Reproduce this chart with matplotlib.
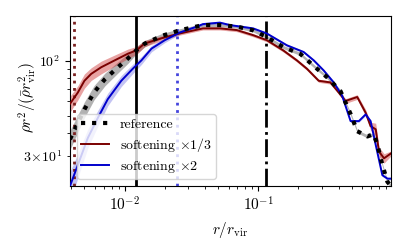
import matplotlib
matplotlib.use("Agg")
import matplotlib.pyplot as plt
import numpy as np
from matplotlib.ticker import FuncFormatter, LogLocator

# =========================================================
# Data
# =========================================================
REF_R = [0.0039, 0.0050, 0.0059, 0.0071, 0.0089, 0.0106, 0.0119, 0.0141, 0.0190, 0.0259,
         0.0386, 0.0517, 0.0691, 0.0916, 0.116, 0.154, 0.207, 0.259, 0.329, 0.414,
         0.492, 0.552, 0.657, 0.732, 0.780, 0.851, 0.929, 0.99]
REF_V = [37, 54, 67, 79, 92, 103, 112, 124, 137, 147,
         157, 157, 154, 147, 135, 119, 109, 94, 81, 68,
         51, 41, 38.4, 39.5, 34.7, 26.8, 21.6, 20.5]
REF_ERR = [0.12, 0.10, 0.09, 0.08, 0.07, 0.06, 0.05, 0.04, 0.03, 0.02,
           0.02, 0.02, 0.02, 0.02, 0.02, 0.02, 0.02, 0.02, 0.02, 0.02,
           0.02, 0.02, 0.02, 0.02, 0.02, 0.02, 0.02, 0.02]

THIRD_R = [0.0039, 0.00446, 0.0050, 0.00562, 0.00668, 0.00841, 0.0106, 0.01225, 0.0141, 0.0190,
           0.0259, 0.0386, 0.0517, 0.0691, 0.0916, 0.116, 0.154, 0.195, 0.232, 0.284,
           0.347, 0.391, 0.451, 0.552, 0.638, 0.695, 0.759, 0.803, 0.876, 0.99]
THIRD_V = [58, 66.8, 77.6, 84.7, 92.1, 100.4, 109.4, 114, 124.3, 133,
           141.2, 150.6, 150.6, 147.4, 138.2, 129.7, 114, 100.4, 90.3, 77.6,
           76, 68.4, 60.1, 63.2, 51.8, 43.7, 42.0, 31.7, 29.1, 31]
THIRD_ERR = [0.10, 0.09, 0.09, 0.08, 0.08, 0.07, 0.06, 0.05, 0.04, 0.03,
             0.02, 0.02, 0.02, 0.02, 0.02, 0.02, 0.02, 0.02, 0.02, 0.02,
             0.02, 0.02, 0.03, 0.03, 0.04, 0.05, 0.08, 0.06, 0.06, 0.03]

TWO_R = [0.0039, 0.00446, 0.0053, 0.0063, 0.00748, 0.00944, 0.01155, 0.01335, 0.0159, 0.0200,
         0.0259, 0.0346, 0.0386, 0.0517, 0.0615, 0.0916, 0.116, 0.164, 0.219, 0.261,
         0.310, 0.368, 0.426, 0.492, 0.568, 0.638, 0.695, 0.759, 0.851, 0.929, 0.99]
TWO_V = [20.5, 26.7, 37.6, 48.5, 61.5, 77.6, 90.6, 100.4, 116.6, 129.7,
         143, 153.8, 159, 162, 157, 150.6, 141.2, 121.6, 111.7, 100.4,
         88.3, 76, 64.1, 46.6, 46.6, 50.7, 46.6, 34.5, 23.5, 22.5, 22.5]
TWO_ERR = [0.20, 0.15, 0.12, 0.10, 0.08, 0.07, 0.06, 0.05, 0.04, 0.03,
           0.02, 0.02, 0.015, 0.015, 0.015, 0.015, 0.015, 0.015, 0.015, 0.015,
           0.015, 0.015, 0.015, 0.015, 0.015, 0.015, 0.015, 0.015, 0.015, 0.015, 0.015]

VLINE_THIRD = 0.0042
VLINE_REF = 0.01225
VLINE_TWO = 0.0247
VLINE_DASHDOT = 0.1144

XLIM = (0.0039, 0.99)
YLIM = (20.5, 176)


def band(ax, r, v, err, color, alpha):
    v = np.asarray(v)
    e = np.asarray(err)
    ax.fill_between(r, v * (1 - e), v * (1 + e), color=color, alpha=alpha, lw=0)


def minor_y(val, pos):
    if abs(val - 30) < 1e-6:
        return r"$3\!\times\!10^{1}$"
    return ""


def main() -> None:
    plt.rcParams["font.family"] = "serif"
    plt.rcParams["font.serif"] = ["cmr10"]
    plt.rcParams["mathtext.fontset"] = "cm"
    plt.rcParams["axes.formatter.use_mathtext"] = True
    plt.rcParams["font.size"] = 10

    fig = plt.figure(figsize=(4.07, 2.47), dpi=100)
    ax = fig.add_axes([0.172, 0.247, 0.789, 0.688])

    band(ax, REF_R, REF_V, REF_ERR, "gray", 0.6)
    band(ax, THIRD_R, THIRD_V, THIRD_ERR, "#cc3333", 0.45)
    band(ax, TWO_R, TWO_V, TWO_ERR, "#5555dd", 0.35)

    ax.plot(REF_R, REF_V, color="black", ls=":", lw=3, label="reference", zorder=4)
    ax.plot(THIRD_R, THIRD_V, color="#7a0000", lw=1.4, label=r"softening $\times 1/3$", zorder=3)
    ax.plot(TWO_R, TWO_V, color="#0000cc", lw=1.4, label=r"softening $\times 2$", zorder=3)

    ax.axvline(VLINE_THIRD, color="#7a2020", ls=":", lw=2)
    ax.axvline(VLINE_REF, color="black", ls="-", lw=2)
    ax.axvline(VLINE_TWO, color="#4444dd", ls=":", lw=2)
    ax.axvline(VLINE_DASHDOT, color="black", ls="-.", lw=2)

    ax.set_xscale("log")
    ax.set_yscale("log")
    ax.set_xlim(*XLIM)
    ax.set_ylim(*YLIM)
    ax.yaxis.set_minor_locator(LogLocator(base=10, subs=np.arange(2, 10)))
    ax.yaxis.set_minor_formatter(FuncFormatter(minor_y))
    ax.tick_params(axis="x", which="major", labelsize=11)

    ax.set_xlabel(r"$r/r_{\rm vir}$", fontsize=11)
    ax.set_ylabel(r"$\rho r^2/(\bar{\rho} r_{\rm vir}^2)$", fontsize=11)
    ax.xaxis.set_label_coords(0.498, -0.2)
    ax.yaxis.set_label_coords(-0.095, 0.52)

    ax.legend(loc="lower left", labelspacing=0.35, borderpad=0.3)

    fig.savefig("out.png", dpi=100)
    plt.close(fig)


if __name__ == "__main__":
    main()
